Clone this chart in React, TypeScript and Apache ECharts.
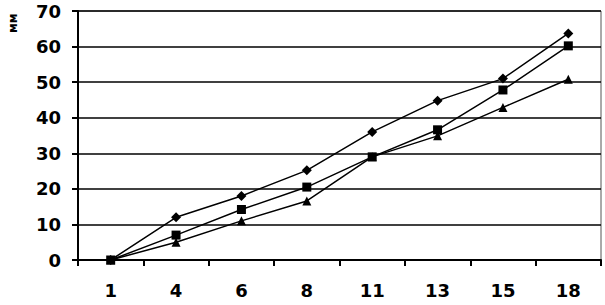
import React, { useEffect, useRef } from "react";
import * as echarts from "echarts";

const categories = ["1", "4", "6", "8", "11", "13", "15", "18"];
const seriesDiamond = [0, 12, 18, 25.2, 36, 44.8, 51, 63.7];
const seriesSquare = [0, 7, 14.2, 20.5, 29, 36.6, 47.8, 60.2];
const seriesTriangle = [0, 5, 11, 16.6, 29, 34.9, 42.9, 50.8];
const yTicks = [0, 10, 20, 30, 40, 50, 60, 70];

export default function App() {
  const ref = useRef<HTMLDivElement>(null);
  useEffect(() => {
    if (!ref.current) return;
    const chart = echarts.init(ref.current, undefined, { renderer: "svg" });
    const font = "'DejaVu Sans', sans-serif";
    const mk = (name: string, data: number[], symbol: string, size: number) => ({
      name,
      type: "line",
      data,
      symbol,
      symbolSize: size,
      showAllSymbol: true,
      lineStyle: { color: "#000", width: 1.5 },
      itemStyle: { color: "#000" },
    });
    chart.setOption({
      animation: false,
      backgroundColor: "#fff",
      grid: {
        left: 78,
        right: 4,
        top: 11,
        bottom: 45,
        show: true,
        borderColor: "#555",
        borderWidth: 1,
      },
      xAxis: {
        type: "category",
        data: categories,
        boundaryGap: true,
        axisLine: { lineStyle: { color: "#000", width: 2 } },
        axisTick: { show: true, length: 6, lineStyle: { color: "#000", width: 2 } },
        axisLabel: {
          margin: 21,
          color: "#000",
          fontSize: 18,
          fontWeight: "bold",
          fontFamily: font,
        },
      },
      yAxis: {
        type: "value",
        min: yTicks[0],
        max: yTicks[yTicks.length - 1],
        interval: 10,
        axisLine: { show: true, lineStyle: { color: "#000", width: 2 } },
        axisTick: { show: true, length: 6, lineStyle: { color: "#000", width: 2 } },
        splitLine: { lineStyle: { color: "#000", width: 1.5 } },
        axisLabel: {
          margin: 17,
          color: "#000",
          fontSize: 18,
          fontWeight: "bold",
          fontFamily: font,
        },
      },
      graphic: [
        {
          type: "text",
          x: 7,
          y: 33,
          rotation: Math.PI / 2,
          style: {
            text: "мм",
            fill: "#000",
            font: "bold 12px 'DejaVu Sans', sans-serif",
          },
        },
      ],
      series: [
        mk("A", seriesDiamond, "diamond", 10),
        mk("B", seriesSquare, "rect", 9),
        mk("C", seriesTriangle, "triangle", 9),
      ],
    });
    return () => chart.dispose();
  }, []);
  return (
    <div
      ref={ref}
      style={{ position: "fixed", left: 0, top: 0, width: 605, height: 305 }}
    />
  );
}
